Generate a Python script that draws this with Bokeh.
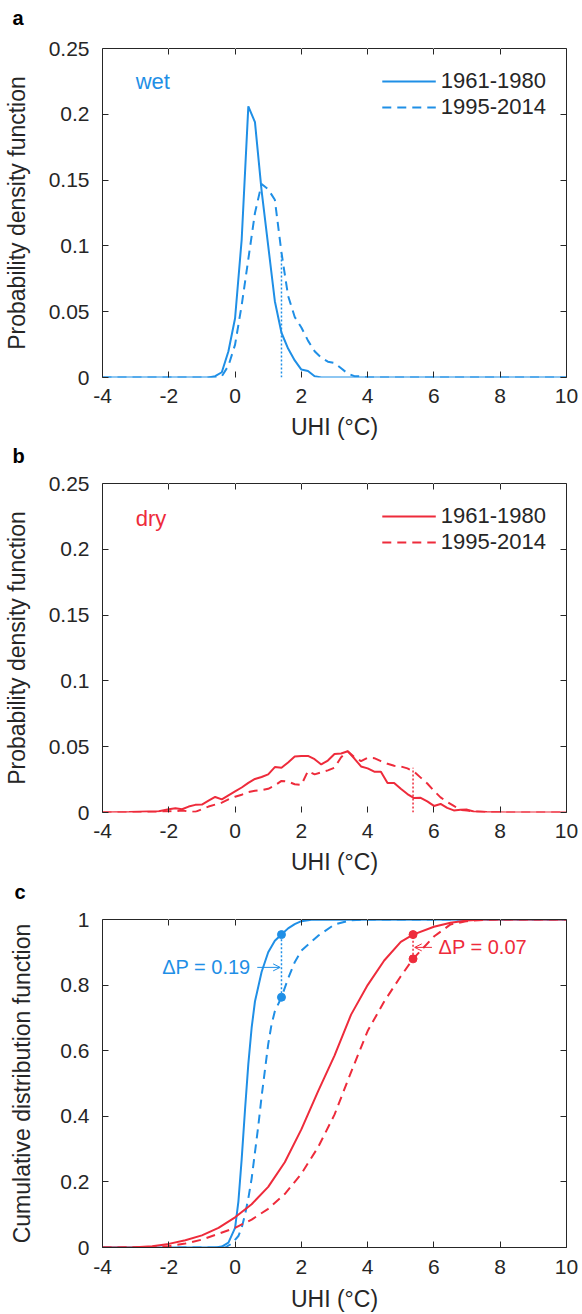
from bokeh.plotting import figure
from bokeh.layouts import column
from bokeh.models import (LinearAxis, FixedTicker, CustomJSTickFormatter, Label,
                          Arrow, OpenHead, Range1d)
from bokeh.embed import file_html
from bokeh.resources import INLINE

BLUE = "#1F8FE6"
RED = "#EE2B3B"
AX = "#262626"
FONT = "Liberation Sans"

# ---------------- data ----------------
x_ticks = [-4, -2, 0, 2, 4, 6, 8, 10]
pdf_ticks = [0, 0.05, 0.1, 0.15, 0.2, 0.25]
cdf_ticks = [0, 0.2, 0.4, 0.6, 0.8, 1]
periods = ["1961-1980", "1995-2014"]

# panel a: wet PDF
wet_x_1961 = [-4, -0.8, -0.6, -0.4, -0.2, 0.0, 0.2, 0.4, 0.6, 0.8, 1.0, 1.2, 1.4, 1.6,
              1.8, 2.0, 2.2, 2.4, 2.6, 10]
wet_pdf_1961 = [0, 0, 0.001, 0.004, 0.02, 0.045, 0.105, 0.206, 0.194, 0.142, 0.1, 0.058,
                0.034, 0.022, 0.013, 0.006, 0.005, 0.001, 0, 0]
wet_x_1995 = [-4, -0.6, -0.4, -0.2, 0.0, 0.2, 0.4, 0.6, 0.8, 1.0, 1.2, 1.4, 1.6, 1.8, 2.0,
              2.2, 2.4, 2.6, 2.8, 3.0, 3.2, 3.4, 3.6, 3.8, 4.0, 10]
wet_pdf_1995 = [0, 0, 0.001, 0.009, 0.025, 0.055, 0.09, 0.125, 0.147, 0.143, 0.135, 0.095,
                0.062, 0.046, 0.038, 0.028, 0.02, 0.015, 0.012, 0.011, 0.007, 0.003, 0.001,
                0.001, 0, 0]

# panel b: dry PDF
dry_x_1961 = [-4, -3.2, -2.6, -2.3, -2.0, -1.8, -1.6, -1.4, -1.2, -1.0, -0.8, -0.6, -0.4,
              -0.2, 0.0, 0.2, 0.4, 0.6, 0.8, 1.0, 1.2, 1.4, 1.6, 1.8, 2.0, 2.2, 2.4, 2.6,
              2.8, 3.0, 3.2, 3.4, 3.6, 3.8, 4.0, 4.2, 4.4, 4.6, 4.8, 5.0, 5.2, 5.4, 5.6,
              5.8, 6.0, 6.2, 6.4, 6.6, 6.8, 7.0, 7.2, 7.6, 8.2, 10]
dry_pdf_1961 = [0, 0.0004, 0.0008, 0.001, 0.0025, 0.0033, 0.0025, 0.0045, 0.0058, 0.006,
                0.009, 0.0118, 0.010, 0.013, 0.016, 0.019, 0.0225, 0.0255, 0.027, 0.029,
                0.0345, 0.034, 0.038, 0.0425, 0.043, 0.043, 0.0405, 0.0365, 0.0395, 0.0445,
                0.0448, 0.0465, 0.041, 0.035, 0.0335, 0.031, 0.031, 0.0225, 0.0225, 0.018,
                0.014, 0.011, 0.0112, 0.0085, 0.005, 0.0065, 0.0035, 0.0016, 0.002, 0.0022,
                0.0008, 0.0003, 0, 0]
dry_x_1995 = [-4, -2.6, -2.2, -1.8, -1.6, -1.4, -1.2, -1.0, -0.8, -0.6, -0.4, -0.2, 0.0,
              0.2, 0.4, 0.6, 0.8, 1.0, 1.2, 1.4, 1.6, 1.8, 2.0, 2.2, 2.4, 2.6, 2.8, 3.0,
              3.2, 3.4, 3.6, 3.8, 4.0, 4.2, 4.4, 4.6, 4.8, 5.0, 5.2, 5.4, 5.6, 5.8, 6.0,
              6.2, 6.4, 6.6, 6.8, 7.0, 7.2, 7.6, 8.2, 10]
dry_pdf_1995 = [0, 0, 0.0008, 0.001, 0.0015, 0.0008, 0.0005, 0.0025, 0.0045, 0.006, 0.0075,
                0.010, 0.012, 0.0135, 0.0155, 0.0165, 0.017, 0.018, 0.0205, 0.024, 0.0235,
                0.0215, 0.021, 0.0315, 0.029, 0.0305, 0.032, 0.034, 0.042, 0.0465, 0.042,
                0.039, 0.0415, 0.0413, 0.039, 0.037, 0.0355, 0.035, 0.0335, 0.031, 0.0265,
                0.022, 0.0165, 0.0115, 0.008, 0.005, 0.002, 0.0015, 0.0008, 0.0003, 0, 0]

# thresholds (95th percentile of 1961-1980) and values at them
wet_threshold = 1.4
dry_threshold = 5.37
wet_pdf_at_threshold = 0.095
dry_pdf_at_threshold = 0.034
wet_cdf_at_threshold = [0.954, 0.763]
dry_cdf_at_threshold = [0.954, 0.88]
delta_p_labels = ["\u0394P = 0.19", "\u0394P = 0.07"]

# panel c: CDF
wet_cdf_x_1961 = [-4, -0.6, -0.4, -0.2, 0.0, 0.1, 0.2, 0.3, 0.4, 0.5, 0.6, 0.8, 1.0, 1.2,
                  1.4, 1.6, 1.8, 2.0, 2.3, 10]
wet_cdf_1961 = [0, 0, 0.003, 0.015, 0.06, 0.14, 0.27, 0.42, 0.56, 0.67, 0.75, 0.84, 0.9,
                0.935, 0.954, 0.973, 0.986, 0.995, 0.999, 1]
wet_cdf_x_1995 = [-4, -0.3, -0.1, 0.1, 0.2, 0.3, 0.4, 0.5, 0.6, 0.7, 0.8, 0.9, 1.0, 1.1,
                  1.2, 1.4, 1.6, 1.8, 2.0, 2.5, 3.0, 3.5, 4.0, 10]
wet_cdf_1995 = [0, 0, 0.012, 0.035, 0.06, 0.1, 0.15, 0.21, 0.29, 0.37, 0.46, 0.54, 0.62,
                0.68, 0.72, 0.763, 0.82, 0.87, 0.905, 0.95, 0.985, 0.998, 1, 1]
dry_cdf_x_1961 = [-4, -3.0, -2.5, -2.0, -1.5, -1.0, -0.5, 0.0, 0.5, 1.0, 1.5, 2.0, 2.5, 3.0,
                  3.5, 4.0, 4.5, 5.0, 5.37, 6.0, 6.5, 7.0, 7.5, 10]
dry_cdf_1961 = [0, 0.001, 0.004, 0.011, 0.022, 0.037, 0.06, 0.092, 0.132, 0.185, 0.26,
                0.36, 0.475, 0.585, 0.71, 0.8, 0.875, 0.932, 0.954, 0.978, 0.99, 0.997,
                1.0, 1.0]
dry_cdf_x_1995 = [-4, -2.5, -2.0, -1.5, -1.0, -0.5, 0.0, 0.5, 1.0, 1.5, 2.0, 2.5, 3.0, 3.5,
                  4.0, 4.5, 5.0, 5.37, 6.0, 6.5, 7.0, 7.5, 8.0, 10]
dry_cdf_1995 = [0, 0.001, 0.004, 0.012, 0.024, 0.042, 0.06, 0.085, 0.118, 0.163, 0.225,
                0.305, 0.405, 0.535, 0.66, 0.75, 0.827, 0.88, 0.948, 0.985, 0.995, 0.999,
                1.0, 1.0]

fmt_code = "return tick.toString();"


def make_fig(height, top, bottom, ylabel, yrange, yticks, ylab_std, xtick_std, xlab_std,
             hide_bottom_line, letter, letter_lift, letter_offset):
    p = figure(width=582, height=height, x_range=Range1d(-4, 10),
               y_range=Range1d(*yrange), output_backend="svg", toolbar_location=None,
               min_border_left=96, min_border_right=16, min_border_top=top,
               min_border_bottom=bottom, x_axis_label="UHI (\u00b0C)", y_axis_label=ylabel,
               background_fill_color="white", border_fill_color="white", title=letter)
    p.title.align = "left"
    p.title.offset = letter_offset
    p.title.text_font = FONT
    p.title.text_font_size = "20px"
    p.title.text_font_style = "bold"
    p.title.text_color = "black"
    p.title.standoff = 0
    p.grid.visible = False
    p.outline_line_color = None
    p.add_layout(LinearAxis(), "above")
    p.add_layout(LinearAxis(), "right")
    p.xaxis.ticker = FixedTicker(ticks=x_ticks)
    p.yaxis.ticker = FixedTicker(ticks=yticks)
    p.axis.formatter = CustomJSTickFormatter(code=fmt_code)
    p.axis.major_tick_in = 6
    p.axis.major_tick_out = 0
    p.axis.minor_tick_line_color = None
    p.axis.axis_line_color = AX
    p.axis.major_tick_line_color = AX
    p.axis.major_label_text_font = FONT
    p.axis.major_label_text_font_size = "21px"
    p.axis.major_label_text_color = AX
    p.axis.axis_label_text_font = FONT
    p.axis.axis_label_text_font_size = "23px"
    p.axis.axis_label_text_font_style = "normal"
    p.axis.axis_label_text_color = AX
    for ax in (p.above[0], p.right[0]):
        ax.major_label_text_color = None
        ax.major_label_standoff = 0
    # invisible spacer that lifts the panel letter away from the frame
    spacer = LinearAxis(ticker=FixedTicker(ticks=x_ticks), major_tick_in=0,
                        major_tick_out=letter_lift, major_tick_line_color="white",
                        minor_tick_line_color=None, axis_line_color=None,
                        major_label_text_color=None, major_label_standoff=0)
    p.add_layout(spacer, "above")
    p.left[0].major_label_standoff = 13
    p.left[0].axis_label_standoff = ylab_std
    p.below[0].major_label_standoff = xtick_std
    p.below[0].axis_label_standoff = xlab_std
    if hide_bottom_line:
        p.below[0].axis_line_color = None
    return p


def style_legend(p):
    lg = p.legend[0]
    lg.location = "top_right"
    lg.border_line_color = None
    lg.background_fill_alpha = 0
    lg.label_text_font = FONT
    lg.label_text_font_size = "22px"
    lg.label_text_color = AX
    lg.glyph_width = 54
    lg.label_standoff = 5
    lg.padding = 0
    lg.margin = 20
    lg.spacing = -1


# ---- panel a ----
pa = make_fig(442, 48, 65, "Probability density function", (0, 0.25), pdf_ticks, 16, 11, 8,
              True, "a", 20, -90)
pa.line(wet_x_1961, wet_pdf_1961, color=BLUE, line_width=2, legend_label=periods[0])
pa.line(wet_x_1995, wet_pdf_1995, color=BLUE, line_width=2, line_dash="9 6",
        legend_label=periods[1])
pa.segment(x0=[wet_threshold], y0=[0], x1=[wet_threshold], y1=[wet_pdf_at_threshold],
           color=BLUE, line_width=1.5, line_dash="2 2")
pa.add_layout(Label(x=-3.0, y=0.2246, text="wet", text_font=FONT, text_font_size="22px",
                    text_color=BLUE, text_baseline="middle"))
style_legend(pa)

# ---- panel b ----
pb = make_fig(435, 41, 65, "Probability density function", (0, 0.25), pdf_ticks, 16, 11, 8,
              True, "b", 17, -90)
pb.line(dry_x_1961, dry_pdf_1961, color=RED, line_width=2, legend_label=periods[0])
pb.line(dry_x_1995, dry_pdf_1995, color=RED, line_width=2, line_dash="9 6",
        legend_label=periods[1])
pb.segment(x0=[dry_threshold], y0=[0], x1=[dry_threshold], y1=[dry_pdf_at_threshold],
           color=RED, line_width=1.5, line_dash="2 2")
pb.add_layout(Label(x=-3.0, y=0.2237, text="dry", text_font=FONT, text_font_size="22px",
                    text_color=RED, text_baseline="middle"))
style_legend(pb)

# ---- panel c ----
pc = make_fig(437, 42, 67, "Cumulative distribution function", (0, 1), cdf_ticks, 22, 12, 9,
              False, "c", 17, -88)
pc.line(wet_cdf_x_1961, wet_cdf_1961, color=BLUE, line_width=2)
pc.line(wet_cdf_x_1995, wet_cdf_1995, color=BLUE, line_width=2, line_dash="9 6")
pc.line(dry_cdf_x_1961, dry_cdf_1961, color=RED, line_width=2)
pc.line(dry_cdf_x_1995, dry_cdf_1995, color=RED, line_width=2, line_dash="9 6")
pc.segment(x0=[wet_threshold], y0=[wet_cdf_at_threshold[1]], x1=[wet_threshold],
           y1=[wet_cdf_at_threshold[0]], color=BLUE, line_width=1.5, line_dash="2 2")
pc.segment(x0=[dry_threshold], y0=[dry_cdf_at_threshold[1]], x1=[dry_threshold],
           y1=[dry_cdf_at_threshold[0]], color=RED, line_width=1.5, line_dash="2 2")
pc.scatter([wet_threshold] * 2, wet_cdf_at_threshold, size=8, color=BLUE)
pc.scatter([dry_threshold] * 2, dry_cdf_at_threshold, size=8, color=RED)
pc.add_layout(Arrow(end=OpenHead(size=7, line_color=BLUE, line_width=1),
                    x_start=0.67, y_start=0.854, x_end=1.36, y_end=0.854,
                    line_color=BLUE, line_width=1))
pc.add_layout(Label(x=-2.2, y=0.854, text=delta_p_labels[0], text_font=FONT,
                    text_font_size="20px", text_color=BLUE, text_baseline="middle"))
pc.add_layout(Arrow(end=OpenHead(size=7, line_color=RED, line_width=1),
                    x_start=5.94, y_start=0.915, x_end=5.42, y_end=0.915,
                    line_color=RED, line_width=1))
pc.add_layout(Label(x=6.14, y=0.915, text=delta_p_labels[1], text_font=FONT,
                    text_font_size="20px", text_color=RED, text_baseline="middle"))

layout = column(pa, pb, pc, spacing=0)
open("out.html", "w").write(file_html(layout, INLINE))
